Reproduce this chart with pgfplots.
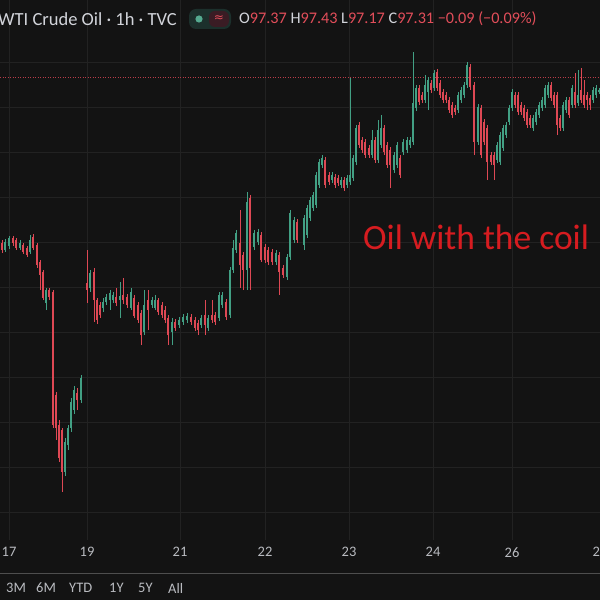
\documentclass[border=0pt]{standalone}
\usepackage{pgfplots}
\pgfplotsset{compat=1.18}
\usepackage{pgfplotstable}
\usepackage{fontspec}
\setmainfont{Carlito}
\newfontfamily\dejavu{DejaVu Sans}

\definecolor{bg}{RGB}{19,19,19}
\definecolor{gridc}{RGB}{34,34,34}
\definecolor{cgreen}{RGB}{66,160,132}
\definecolor{cred}{RGB}{222,72,84}
\definecolor{hdr}{RGB}{210,212,218}
\definecolor{ohlc}{RGB}{226,78,90}
\definecolor{tickc}{RGB}{185,187,192}
\definecolor{note}{RGB}{214,28,32}
\definecolor{lastc}{RGB}{185,60,72}
\definecolor{pillg}{RGB}{28,48,44}
\definecolor{pillr}{RGB}{58,28,36}

% hourly candles, x = position along the time axis
\pgfplotstableread{
x o h l c
5 89.65 90.14 89.56 90.00
9 89.83 90.27 89.69 90.18
20 89.74 90.09 89.65 89.96
30 89.56 90.32 89.47 90.09
46 87.29 87.96 86.98 87.87
65 79.78 81.29 79.60 81.12
68 80.98 81.87 80.76 81.74
71 81.74 83.07 81.56 82.89
74 82.54 83.61 82.36 83.43
81 82.98 84.09 82.85 83.96
90 87.96 88.76 87.78 88.63
103 87.07 87.52 86.89 87.34
106 87.34 87.69 87.21 87.56
110 87.43 87.87 86.98 87.74
113 87.43 87.78 87.29 87.65
120 87.43 88.23 86.63 87.61
131 87.07 87.96 86.98 87.78
144 86.00 87.87 85.87 87.21
152 87.21 87.56 87.07 87.43
155 87.07 87.65 86.98 87.43
172 86.00 86.63 85.42 86.45
179 86.32 86.67 86.18 86.54
183 86.45 86.80 86.32 86.67
187 86.54 86.85 86.41 86.72
201 86.32 86.76 86.18 86.63
208 86.18 86.76 86.05 86.63
219 86.63 87.78 86.49 87.65
222 87.21 87.78 87.07 87.65
230 86.76 88.89 86.63 88.76
233 88.76 90.09 88.63 89.74
236 89.65 90.54 89.52 90.40
247 88.76 92.23 87.87 91.78
254 89.78 90.54 89.65 90.40
258 90.00 90.58 89.87 90.45
276 89.12 89.65 88.98 89.52
287 88.45 89.47 88.32 89.34
290 89.34 91.43 89.20 91.29
294 90.09 91.12 89.96 90.98
304 89.87 91.20 89.65 91.07
307 90.32 91.65 90.18 91.52
310 91.07 92.00 90.94 91.87
313 91.52 92.23 91.38 92.09
316 91.65 93.12 91.52 92.98
319 92.54 93.69 92.40 93.56
322 93.43 93.87 93.29 93.74
332 92.76 93.12 92.63 92.98
341 92.54 92.89 92.40 92.76
347 92.54 92.98 92.40 92.85
350 92.67 97.29 92.54 92.98
353 92.85 93.87 92.72 93.74
356 93.56 95.20 93.43 95.07
372 93.87 94.98 93.74 94.54
378 93.65 95.43 93.52 94.98
381 94.32 95.65 94.18 95.07
394 93.20 94.00 93.07 93.87
397 93.43 94.45 93.29 94.32
403 94.00 94.58 93.87 94.45
407 94.09 94.67 93.96 94.54
410 94.32 94.67 94.18 94.54
413 94.45 98.45 94.32 96.18
416 95.96 96.98 95.83 96.85
425 96.32 97.43 96.18 96.98
428 96.67 97.34 95.87 97.20
434 96.85 97.65 96.72 97.52
458 95.87 96.67 95.74 96.54
461 96.32 96.89 96.18 96.76
464 96.54 97.12 96.40 96.98
467 96.98 98.00 96.85 97.87
478 94.45 96.14 94.32 96.00
497 93.65 94.45 93.52 94.32
500 93.56 94.89 93.43 94.76
503 94.18 95.20 94.05 95.07
506 94.76 95.34 94.63 95.20
509 95.34 96.09 95.20 95.96
512 95.96 96.80 95.83 96.67
533 95.07 95.65 94.94 95.52
536 95.34 95.92 95.20 95.78
539 95.65 96.23 95.52 96.09
542 95.96 96.45 95.83 96.32
545 96.09 96.98 95.96 96.85
548 96.54 97.12 96.40 96.98
563 95.07 96.23 94.94 96.09
566 95.87 96.45 95.74 96.32
572 96.09 96.98 95.96 96.85
578 96.18 97.65 96.05 96.54
593 96.32 96.89 96.18 96.76
596 96.54 96.98 96.40 96.85
599 96.67 96.85 96.58 96.76
}\up

\pgfplotstableread{
x o h l c
2 89.96 90.09 89.52 89.65
13 90.18 90.27 89.83 89.96
16 90.09 90.18 89.65 89.74
23 89.87 89.96 89.47 89.56
27 89.74 89.83 89.34 89.43
33 90.23 90.36 89.65 89.74
37 89.87 89.96 88.85 88.98
40 89.12 89.20 87.87 88.54
43 88.67 88.76 87.43 87.52
49 87.87 87.96 87.43 87.56
53 87.78 87.87 81.74 81.87
56 83.21 83.34 81.20 81.74
59 81.87 82.09 80.23 80.40
62 81.65 81.74 78.89 79.78
77 83.29 83.52 82.54 82.98
87 88.18 89.65 87.29 87.87
94 88.67 88.85 86.45 87.43
97 87.43 87.52 86.36 86.54
100 87.21 87.34 86.63 86.76
116 87.56 87.96 87.16 87.29
123 87.65 88.41 87.25 87.43
127 87.56 87.69 87.07 87.21
134 87.52 87.65 86.63 86.72
138 87.21 87.34 86.41 86.54
141 86.85 86.98 85.42 85.87
148 87.43 87.87 86.09 86.98
158 87.43 87.52 86.76 86.89
162 87.21 87.34 86.63 86.76
165 86.98 87.16 86.41 86.54
168 86.63 86.76 85.42 85.87
175 86.45 86.58 86.05 86.18
191 86.67 86.80 86.32 86.45
195 86.54 86.67 86.05 86.18
198 86.41 86.54 85.87 86.09
205 86.76 87.43 85.87 86.32
212 86.76 87.43 86.41 86.54
215 86.76 86.89 86.32 86.45
226 87.34 87.47 86.54 86.67
240 89.96 91.43 87.96 88.98
243 89.43 89.56 87.87 88.76
250 91.96 92.09 87.87 88.85
261 90.32 90.45 89.12 89.20
265 89.78 89.92 89.07 89.20
268 89.65 89.78 88.98 89.12
272 89.56 89.69 88.98 89.12
279 89.43 89.56 87.65 88.67
283 88.85 88.98 88.41 88.54
297 90.89 91.03 89.96 90.09
325 93.65 93.78 92.40 92.54
329 92.98 93.12 92.54 92.67
335 92.89 93.03 92.40 92.54
338 92.85 92.98 92.49 92.63
344 92.76 92.89 92.27 92.40
359 95.20 95.34 94.18 94.32
362 94.54 94.67 93.96 94.09
365 94.45 94.58 93.74 93.87
369 94.18 94.32 93.74 93.87
375 94.54 94.67 93.52 93.65
384 95.07 95.20 93.87 94.00
387 94.32 94.45 93.29 93.43
390 94.09 94.23 92.40 93.43
400 93.74 93.87 92.85 92.98
419 96.85 96.98 96.09 96.23
422 96.54 96.67 96.18 96.32
431 97.07 97.20 96.63 96.76
437 97.56 97.69 96.72 96.85
440 97.07 97.20 96.40 96.54
443 96.67 96.80 96.18 96.32
446 96.54 96.67 96.18 96.32
449 96.32 96.45 95.74 95.87
452 96.09 96.23 95.52 95.65
455 95.96 96.09 95.65 95.78
470 97.78 97.91 96.76 96.89
474 96.98 97.12 93.87 94.45
481 95.96 96.09 93.74 93.87
484 95.34 95.47 94.32 94.45
487 95.07 95.20 92.76 93.56
491 93.87 94.00 93.43 93.56
494 93.87 94.00 92.76 93.43
515 96.54 96.67 95.96 96.09
518 96.54 96.67 95.65 95.78
521 96.09 96.23 95.65 95.78
524 95.96 96.09 95.38 95.52
527 95.78 95.92 95.07 95.20
530 95.52 95.65 95.07 95.20
551 96.98 97.12 96.27 96.40
554 96.54 96.67 95.96 96.09
557 96.54 96.67 94.76 95.20
560 95.52 95.65 94.94 95.07
569 96.32 96.45 95.52 95.65
575 96.67 97.52 95.96 96.09
581 96.76 97.74 96.18 96.32
584 96.54 97.20 95.96 96.09
587 96.54 96.67 95.87 96.32
590 96.40 96.54 95.87 96.09
}\down

\pgfplotsset{
  wick/.style={draw=none, mark=none, forget plot,
    error bars/.cd, y dir=plus, y explicit, error mark=none,
    error bar style={draw=#1, line width=0.9pt}},
  body/.style={draw=none, mark=none, forget plot,
    error bars/.cd, y dir=plus, y explicit, error mark=none,
    error bar style={draw=#1, line width=2.7pt}},
}

\begin{document}
\begin{tikzpicture}
\useasboundingbox (0,-60pt) rectangle (600pt,540pt);
\clip (0,-60pt) rectangle (600pt,540pt);
\fill[bg] (0,-60pt) rectangle (600pt,540pt);
\begin{axis}[
  at={(0,0)}, anchor=south west,
  width=600pt, height=540pt, scale only axis,
  xmin=0, xmax=600, ymin=76.756, ymax=100.756,
  axis line style={draw=none},
  tick style={draw=none},
  xtick={9,87,180,265,349,433,512,600},
  xticklabels={17,19,21,22,23,24,26,27},
  ytick={78,80,...,98},
  yticklabels={},
  grid=major,
  major grid style={gridc, line width=0.9pt},
  xticklabel style={font=\fontsize{14.5}{14.5}\selectfont, text=tickc, yshift=-4pt},
]
\addplot[lastc, line width=0.9pt, dash pattern=on 1pt off 1.5pt, forget plot]
  coordinates {(0,97.31) (600,97.31)};

\addplot[wick=cgreen] table[x=x, y=l, y error expr=\thisrow{h}-\thisrow{l}] {\up};
\addplot[body=cgreen] table[x=x, y=o, y error expr=\thisrow{c}-\thisrow{o}] {\up};
\addplot[wick=cred] table[x=x, y=l, y error expr=\thisrow{h}-\thisrow{l}] {\down};
\addplot[body=cred] table[x=x, y=c, y error expr=\thisrow{o}-\thisrow{c}] {\down};
\end{axis}

% annotation
\node[anchor=base west, inner sep=0, text=note, font=\fontsize{35.5}{35.5}\selectfont]
  at (363pt,290pt) {Oil with the coil};

% legend line at the top
\node[anchor=west, inner sep=0, text=hdr, font=\fontsize{18.5}{18.5}\selectfont]
  at (-2pt,521pt) {WTI Crude Oil · 1h · TVC};
\fill[pillg, rounded corners=7pt] (189pt,511pt) rectangle (231pt,531pt);
\fill[pillr, rounded corners=6pt] (209pt,513pt) rectangle (229pt,529pt);
\fill[cgreen!90!white] (199pt,521pt) circle (3.6pt);
\node[inner sep=0, text=ohlc, font=\dejavu\fontsize{12}{12}\selectfont] at (219pt,521pt) {≈};
\node[anchor=west, inner sep=0, font=\fontsize{16.2}{16.2}\selectfont] at (239pt,521pt)
  {\color{hdr}O\color{ohlc}97.37 \color{hdr}H\color{ohlc}97.43 \color{hdr}L\color{ohlc}97.17 \color{hdr}C\color{ohlc}97.31 −0.09 (−0.09\%)};

% range bar at the bottom
\draw[gridc!80!white, line width=0.8pt] (0,-33pt) -- (600pt,-33pt);
\foreach \lab/\xx in {3M/6, 6M/36, YTD/69, 1Y/109, 5Y/138, All/168}
  \node[anchor=west, inner sep=0, text=tickc, font=\fontsize{14.5}{14.5}\selectfont] at (\xx pt,-48pt) {\lab};
\end{tikzpicture}
\end{document}
